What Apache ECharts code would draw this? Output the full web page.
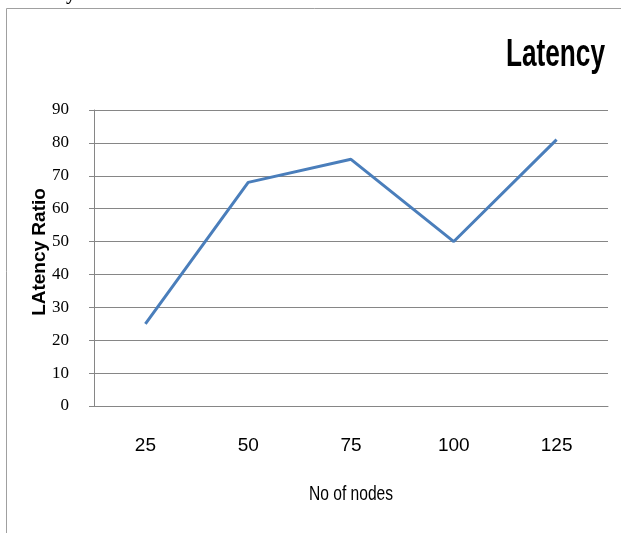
<!DOCTYPE html>
<html>
<head>
<meta charset="utf-8">
<script src="https://cdn.jsdelivr.net/npm/echarts@6/dist/echarts.min.js"></script>
<style>
html,body{margin:0;padding:0;background:#fff;}
#main{width:621px;height:533px;}
</style>
</head>
<body>
<div id="main"></div>
<script>
var categories = ['25', '50', '75', '100', '125'];
var latencyValues = [25, 68, 75, 50, 81];
var yTicks = { min: 0, max: 90, interval: 10 };
var chartTitle = 'Latency';
var xAxisTitle = 'No of nodes';
var yAxisTitle = 'LAtency Ratio';
var captionAbove = 'Latency Ratio';

var chart = echarts.init(document.getElementById('main'), null, { renderer: 'canvas' });
var gray = '#868686';
chart.setOption({
  animation: false,
  backgroundColor: '#ffffff',
  grid: { left: 94, top: 110, width: 514, height: 296, containLabel: false },
  xAxis: {
    type: 'category',
    data: categories,
    boundaryGap: true,
    axisLine: { show: true, lineStyle: { color: gray, width: 1 } },
    axisTick: { show: false },
    axisLabel: { margin: 30, color: '#000', fontFamily: '"Liberation Sans Narrow", "Arial Narrow", "Liberation Sans", sans-serif', fontSize: 19 },
    splitLine: { show: false }
  },
  yAxis: {
    type: 'value',
    min: yTicks.min, max: yTicks.max, interval: yTicks.interval,
    axisLine: { show: true, lineStyle: { color: gray, width: 1 } },
    axisTick: { show: true, length: 5, lineStyle: { color: gray } },
    axisLabel: { margin: 25, color: '#000', fontFamily: '"Liberation Serif", "Times New Roman", serif', fontSize: 17 },
    splitLine: { show: true, lineStyle: { color: gray, width: 1 } }
  },
  series: [{
    type: 'line',
    data: latencyValues,
    symbol: 'none',
    lineStyle: { color: '#4a7ebb', width: 3 },
    itemStyle: { color: '#4a7ebb' }
  }],
  graphic: [
    { type: 'rect', silent: true, z: -10, shape: { x: 6.5, y: 8.5, width: 700, height: 600 },
      style: { fill: 'none', stroke: '#a0a0a0', lineWidth: 1 } },
    { type: 'text', x: 10, y: 5, silent: true,
      style: { text: captionAbove, font: 'bold 19px "Liberation Serif", serif', fill: '#000', textAlign: 'left', textVerticalAlign: 'bottom' } },
    { type: 'text', x: 605, y: 56, scaleX: 0.69, silent: true,
      style: { text: chartTitle, font: 'bold 38px "Liberation Sans", Arial, sans-serif', fill: '#000', textAlign: 'right', textVerticalAlign: 'middle' } },
    { type: 'text', x: 351, y: 494, scaleX: 0.78, silent: true,
      style: { text: xAxisTitle, font: '20px "Liberation Sans", Arial, sans-serif', fill: '#000', textAlign: 'center', textVerticalAlign: 'middle' } },
    { type: 'text', x: 40, y: 252, rotation: Math.PI / 2, silent: true,
      style: { text: yAxisTitle, font: 'bold 19px "Liberation Sans", Arial, sans-serif', fill: '#000', textAlign: 'center', textVerticalAlign: 'middle' } }
  ]
});
</script>
</body>
</html>
